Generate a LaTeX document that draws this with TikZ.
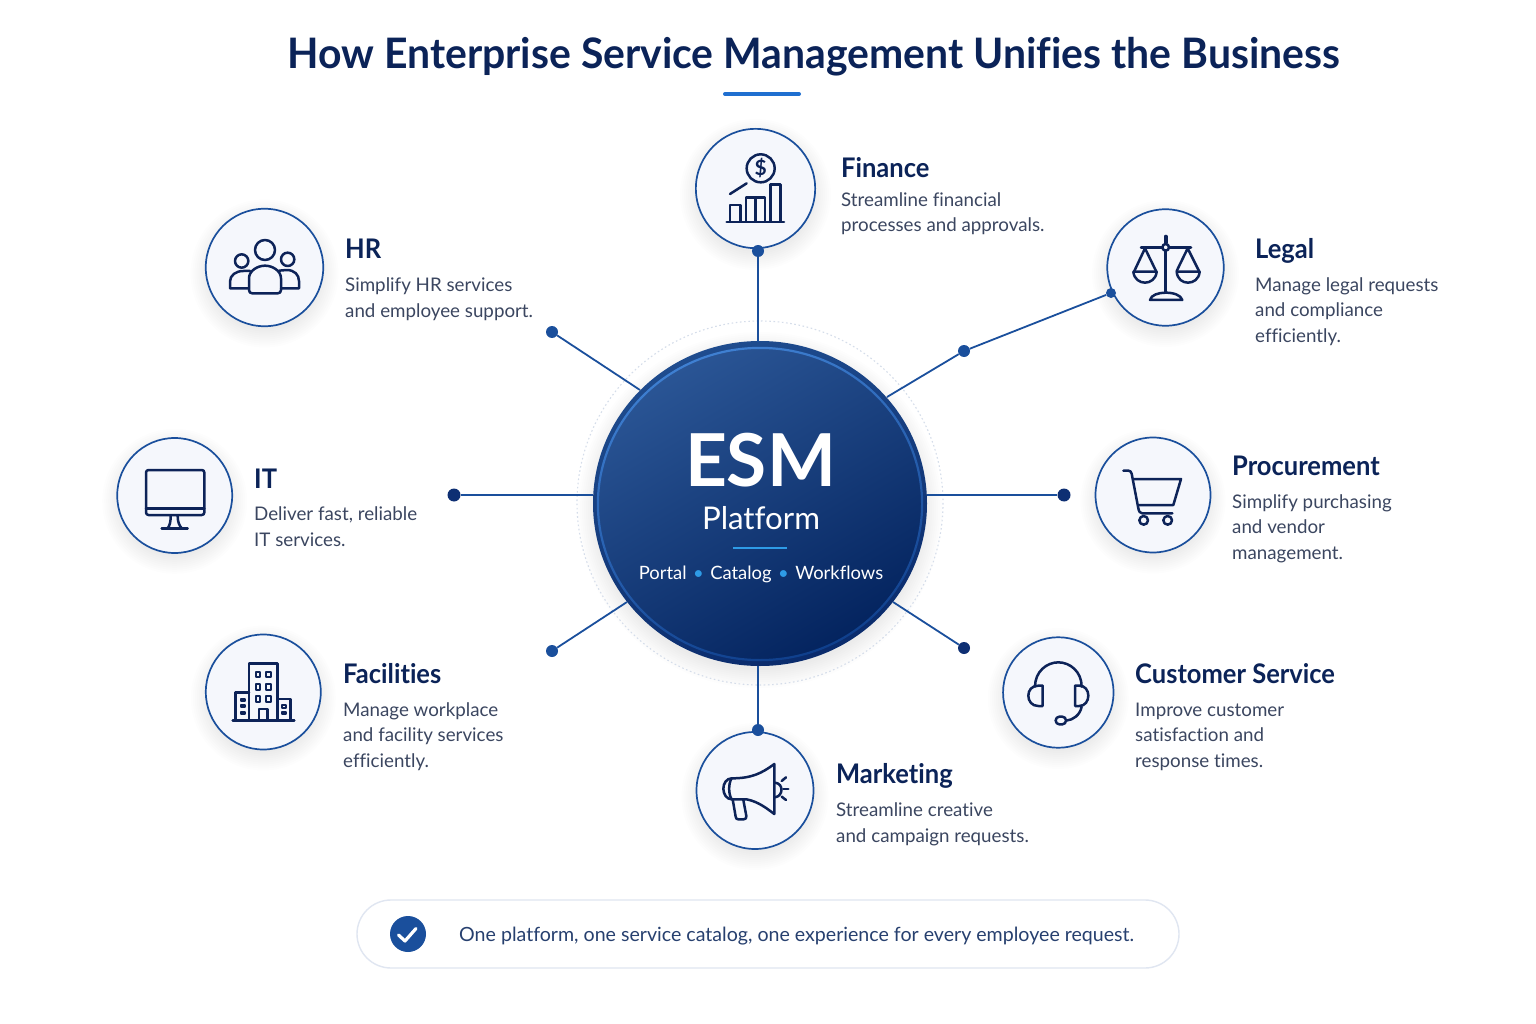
\documentclass[tikz,border=0pt]{standalone}
\usepackage{fontspec}
\setmainfont[Ligatures=NoCommon]{Lato}
\newfontfamily\titlefont[FakeStretch=0.974,Ligatures=NoCommon]{Lato}
\newfontfamily\headfont[FakeStretch=0.945,Ligatures=NoCommon]{Lato}
\usetikzlibrary{shapes.geometric}
\definecolor{navy}{HTML}{0B2358}
\definecolor{bodytxt}{HTML}{3B4660}
\definecolor{linkblue}{HTML}{1A4F9C}
\definecolor{dotdark}{HTML}{0E2F73}
\definecolor{ringfill}{HTML}{F5F7FC}
\definecolor{iconc}{HTML}{0D2358}
\definecolor{accent}{HTML}{1F6FD0}
\definecolor{sky}{HTML}{2E9BE6}
\definecolor{pillline}{HTML}{E0E6F1}
\definecolor{foottxt}{HTML}{27406F}
\definecolor{dashc}{HTML}{D5DDEA}
\definecolor{hubA}{HTML}{2A5595}
\definecolor{hubB}{HTML}{123F85}
\definecolor{hubC}{HTML}{04245F}
\definecolor{rimA}{HTML}{1F4C8E}
\definecolor{rimB}{HTML}{0A2B6C}
\definecolor{bandA}{HTML}{3F80D2}
\definecolor{bandB}{HTML}{0F3F8C}
\tikzset{
  ringnode/.style={circle,draw=linkblue,line width=1.7pt,fill=ringfill,inner sep=0pt,minimum size=#1},
  linkline/.style={draw=linkblue,line width=1.8pt},
  linkdot/.style={circle,fill=linkblue,inner sep=0pt,minimum size=#1},
  darkdot/.style={circle,fill=dotdark,inner sep=0pt,minimum size=#1},
  headtxt/.style={anchor=base west,inner sep=0pt,text=navy,font=\fontsize{27}{30}\selectfont\headfont\bfseries},
  desctxt/.style={anchor=base west,inner sep=0pt,text=bodytxt,align=left,font=\fontsize{18.75}{25.3}\selectfont},
  iconline/.style={draw=iconc,line width=2.5pt,line cap=round,line join=round},
  zoomed/.style={x=0.33333pt,y=-0.33333pt},
}
\newcommand{\softshadow}[4]{%
  \foreach \d in {-3,-1,...,15}{%
    \fill[black!70!blue,opacity=0.007] (#1,#2+6) ellipse [x radius=#3+\d, y radius=#4+\d];}}
\begin{document}
\begin{tikzpicture}[x=1pt,y=-1pt]
\useasboundingbox (0,0) rectangle (1536,1024);
\fill[white] (0,0) rectangle (1536,1024);

% title
\node[anchor=base,inner sep=0pt,text=navy,font=\fontsize{42}{46}\selectfont\titlefont\bfseries] (title) at (814,69) {How Enterprise Service Management Unifies the Business};
\coordinate (ulA) at (725,94);
\coordinate (ulB) at (799,94);
\draw[accent,line width=4pt,line cap=round] (ulA) -- (ulB);

% shadows
\softshadow{755.5}{188.5}{60.5}{60.5}
\softshadow{264.5}{267.5}{59}{59}
\softshadow{1165.5}{267.5}{58.5}{58.5}
\softshadow{174.7}{495.3}{57.5}{57.5}
\softshadow{1153}{495}{57.5}{57.5}
\softshadow{263.3}{692}{57.5}{57.5}
\softshadow{1058.3}{692.5}{55.5}{55.5}
\softshadow{755}{790.5}{58.5}{58.5}
\softshadow{760}{504}{167}{163}

% dashed ring
\draw[dashc,line width=1.1pt,dash pattern=on 1.6pt off 2.6pt] (760,503) ellipse [x radius=183,y radius=182];

% hub: rim, inner face, bright band
\node[ellipse,inner sep=0pt,minimum width=334pt,minimum height=325pt,top color=rimA,bottom color=rimB,shading angle=20] (hub) at (760,503.5) {};
\shade[top color=hubA,middle color=hubB,bottom color=hubC,shading angle=30] (760,504) ellipse [x radius=162,y radius=156];
\shade[top color=bandA,bottom color=bandB,shading angle=20,even odd rule]
  (760,504) ellipse [x radius=163.2,y radius=157.2] (760,504) ellipse [x radius=161,y radius=155];

\node[anchor=base,inner sep=0pt,text=white,font=\fontsize{73}{80}\selectfont\bfseries] (esm) at (760.5,486) {ESM};
\node[anchor=base,inner sep=0pt,text=white,font=\fontsize{31.3}{34}\selectfont] (plat) at (761,529) {Platform};
\coordinate (hrA) at (733,548);
\coordinate (hrB) at (787,548);
\draw[sky,line width=1.6pt] (hrA) -- (hrB);
\node[anchor=base,inner sep=0pt,text=white,font=\fontsize{18.4}{22}\selectfont] (feat) at (761,579) {Portal\hspace{6.5pt}{\color{sky}•}\hspace{6.5pt}Catalog\hspace{6.5pt}{\color{sky}•}\hspace{6.5pt}Workflows};

% service circles
\node[ringnode=119.3pt] (finance) at (755.5,188.5) {};
\node[ringnode=117.5pt] (hr) at (264.5,267.5) {};
\node[ringnode=116.5pt] (legal) at (1165.5,267.5) {};
\node[ringnode=115pt] (it) at (174.7,495.5) {};
\node[ringnode=115pt] (proc) at (1153,495) {};
\node[ringnode=115pt] (fac) at (263.3,692) {};
\node[ringnode=110.5pt] (cust) at (1058.3,692.5) {};
\node[ringnode=117pt] (mkt) at (755,790.5) {};

% connector ends
\node[linkdot=12pt] (dFin) at (758,251) {};
\node[linkdot=12pt] (dHr) at (552,332) {};
\node[linkdot=10pt] (dLegal) at (1111,293) {};
\node[linkdot=12pt] (dBend) at (964,351) {};
\node[darkdot=13pt] (dIt) at (454,495) {};
\node[darkdot=13pt] (dProc) at (1064,495) {};
\node[linkdot=12pt] (dFac) at (552,651) {};
\node[darkdot=12pt] (dCust) at (964,648) {};
\node[linkdot=12pt] (dMkt) at (758,730) {};
\coordinate (hFin) at (758,342);
\coordinate (hHr) at (640,390);
\coordinate (hLegal) at (887,397);
\coordinate (hIt) at (593,495);
\coordinate (hProc) at (927,495);
\coordinate (hFac) at (627,602);
\coordinate (hCust) at (893,602);
\coordinate (hMkt) at (758,666);
\draw[linkline] (dFin) -- (hFin);
\draw[linkline] (dHr) -- (hHr);
\draw[linkline] (dLegal) -- (dBend) -- (hLegal);
\draw[linkline] (dIt) -- (hIt);
\draw[linkline] (dProc) -- (hProc);
\draw[linkline] (dFac) -- (hFac);
\draw[linkline] (dCust) -- (hCust);
\draw[linkline] (dMkt) -- (hMkt);

% labels (base anchor = last line of a block)
\node[headtxt] (tFin) at (841,178) {Finance};
\node[desctxt] (bFin) at (841,232) {Streamline financial\\processes and approvals.};
\node[headtxt] (tHr) at (345,259) {HR};
\node[desctxt] (bHr) at (345,317) {Simplify HR services\\and employee support.};
\node[headtxt] (tLegal) at (1255,259) {Legal};
\node[desctxt] (bLegal) at (1255,342) {Manage legal requests\\and compliance\\efficiently.};
\node[headtxt] (tIt) at (254,488) {IT};
\node[desctxt] (bIt) at (254,546) {Deliver fast, reliable\\IT services.};
\node[headtxt] (tProc) at (1232,475) {Procurement};
\node[desctxt] (bProc) at (1232,559) {Simplify purchasing\\and vendor\\management.};
\node[headtxt] (tFac) at (343,683) {Facilities};
\node[desctxt] (bFac) at (343,767) {Manage workplace\\and facility services\\efficiently.};
\node[headtxt] (tCust) at (1135,683) {Customer Service};
\node[desctxt] (bCust) at (1135,767) {Improve customer\\satisfaction and\\response times.};
\node[headtxt] (tMkt) at (836,783) {Marketing};
\node[desctxt] (bMkt) at (836,842) {Streamline creative\\and campaign requests.};

% footer
\node[draw=pillline,line width=1.4pt,fill=white,rounded corners=34pt,minimum width=822pt,minimum height=68pt,inner sep=0pt] (pill) at (768,934) {};
\node[circle,fill=linkblue,minimum size=36pt,inner sep=0pt] (chk) at (408,934) {};
\draw[white,line width=3.2pt,line cap=round,line join=round] (398.5,935) -- (405,941) -- (416,928.5);
\node[anchor=base west,inner sep=0pt,text=foottxt,font=\fontsize{19.6}{22}\selectfont] (foot) at (459,941) {One platform, one service catalog, one experience for every employee request.};

% icons
\begin{scope}[shift={(680,120)},zoomed,iconline]
  \draw (242,145) circle [radius=42];
  \draw (150,222) -- (200,190);
  \draw (150,303) -- (150,255) -- (182,255) -- (182,303);
  \draw (198,303) -- (198,232) -- (255,232) -- (255,303) (227,232) -- (227,303);
  \draw (272,303) -- (272,193) -- (302,193) -- (302,303);
  \draw (140,306) -- (312,306);
\end{scope}
\node[inner sep=0pt,text=iconc,font=\fontsize{21}{22}\selectfont\bfseries] (dollar) at (760.7,168.5) {\$};
\begin{scope}[shift={(195,200)},zoomed,iconline]
  \draw (210,150) circle [radius=30];
  \draw (140,183) circle [radius=20];
  \draw (278,178) circle [radius=20];
  \draw (162,270) -- (162,235) .. controls (162,212) and (188,197) .. (210,197) .. controls (232,197) and (258,212) .. (258,235) -- (258,270) .. controls (258,277) and (254,280) .. (248,280) -- (172,280) .. controls (166,280) and (162,277) .. (162,270) -- cycle;
  \draw (160,265) -- (105,265) -- (105,245) .. controls (105,226) and (122,213) .. (145,213) -- (165,213);
  \draw (258,265) -- (312,265) -- (312,243) .. controls (312,224) and (298,210) .. (275,210) -- (252,212);
\end{scope}
\begin{scope}[shift={(1095,200)},zoomed,iconline]
  \draw (212,153) -- (212,278);
  \draw[line width=4pt] (212,110) -- (212,128);
  \draw (138,142) -- (202,142) (222,142) -- (288,142);
  \draw (212,142) circle [radius=10];
  \draw (150,145) -- (118,213) (150,145) -- (183,213);
  \draw (115,215) -- (185,215) .. controls (183,238) and (165,248) .. (150,248) .. controls (135,248) and (117,238) .. (115,215);
  \draw (278,145) -- (245,213) (278,145) -- (312,213);
  \draw (245,215) -- (314,215) .. controls (312,238) and (295,248) .. (279,248) .. controls (263,248) and (247,238) .. (245,215);
  \draw (165,300) .. controls (168,285) and (190,278) .. (212,278) .. controls (235,278) and (258,285) .. (262,300) -- cycle;
\end{scope}
\begin{scope}[shift={(105,425)},zoomed,iconline]
  \draw[rounded corners=2.5pt] (123,135) rectangle (298,270);
  \draw (123,250) -- (298,250);
  \draw (197,272) .. controls (197,290) and (195,300) .. (188,310);
  \draw (218,272) .. controls (218,290) and (222,300) .. (230,310);
  \draw (170,311) -- (248,311);
\end{scope}
\begin{scope}[shift={(1085,425)},zoomed,iconline]
  \draw (115,137) -- (130,137) .. controls (136,137) and (138,140) .. (140,146) -- (160,250) .. controls (162,260) and (165,265) .. (172,265) -- (262,265);
  \draw (146,162) -- (288,162) -- (265,240) -- (163,240);
  \draw (176,286) circle [radius=13];
  \draw (248,286) circle [radius=13];
\end{scope}
\begin{scope}[shift={(195,625)},zoomed,iconline]
  \draw (162,285) -- (162,115) -- (248,115) -- (248,285);
  \foreach \yy in {140,178,213}{
    \draw[line width=2.2pt] (182,\yy) rectangle (196,\yy+17);
    \draw[line width=2.2pt] (213,\yy) rectangle (227,\yy+17);}
  \draw (192,285) -- (192,252) -- (217,252) -- (217,285);
  \draw (162,203) -- (122,203) -- (122,285);
  \foreach \yy in {222,240,260}{\draw[line width=1.9pt] (138,\yy) rectangle (150,\yy+7);}
  \draw (248,222) -- (287,222) -- (287,285);
  \foreach \yy in {240,260}{\draw[line width=1.9pt] (260,\yy) rectangle (272,\yy+8);}
  \draw (113,287) -- (298,287);
\end{scope}
\begin{scope}[shift={(990,625)},zoomed,iconline]
  \draw (135,185) .. controls (135,140) and (170,112) .. (205,112) .. controls (240,112) and (275,140) .. (275,185);
  \draw (158,182) -- (158,243) -- (145,243) .. controls (125,243) and (115,228) .. (115,212) .. controls (115,196) and (125,182) .. (145,182) -- cycle;
  \draw (255,182) -- (255,243) -- (268,243) .. controls (285,243) and (295,228) .. (295,212) .. controls (295,196) and (285,182) .. (268,182) -- cycle;
  \draw (275,245) .. controls (270,270) and (250,285) .. (228,287);
  \draw[rounded corners=3.7pt] (197,275) rectangle (228,298);
\end{scope}
\begin{scope}[shift={(685,720)},zoomed,iconline]
  \draw (268,132) .. controls (230,160) and (200,175) .. (140,175) .. controls (125,175) and (115,190) .. (115,206) .. controls (115,222) and (125,238) .. (140,238) -- (185,238) .. controls (220,245) and (245,265) .. (268,282) -- cycle;
  \draw (140,175) .. controls (130,190) and (130,222) .. (140,238);
  \draw (143,238) -- (152,290) .. controls (153,296) and (155,298) .. (160,298) -- (176,298) .. controls (182,298) and (185,294) .. (184,288) -- (175,240);
  \draw (270,188) .. controls (296,190) and (296,228) .. (270,232);
  \draw (290,183) -- (303,172);
  \draw (295,207) -- (310,207);
  \draw (290,230) -- (303,240);
\end{scope}
\end{tikzpicture}
\end{document}
